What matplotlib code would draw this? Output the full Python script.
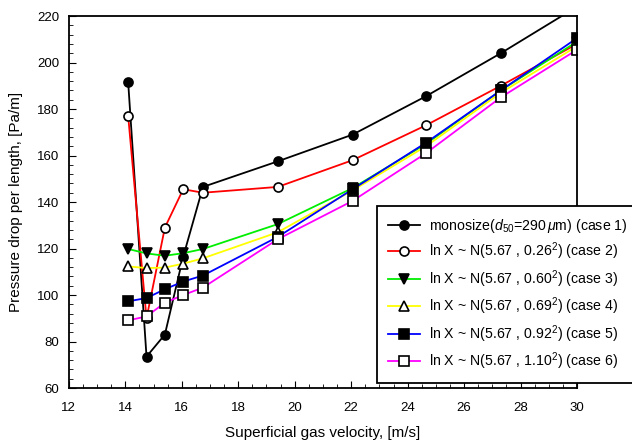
import matplotlib.pyplot as plt
from matplotlib.ticker import MultipleLocator

plt.rcParams['font.family'] = ['Liberation Sans', 'DejaVu Sans']
plt.rcParams['mathtext.fontset'] = 'custom'
plt.rcParams['mathtext.rm'] = 'Liberation Sans'
plt.rcParams['mathtext.it'] = 'Liberation Sans:italic'

velocity = [14.1, 14.75, 15.4, 16.05, 16.75, 19.4, 22.05, 24.65, 27.3, 30.0]
case1 = [191.5, 73.5, 83.0, 116.5, 146.5, 157.5, 169.0, 185.5, 204.0, 224.0]
case2 = [177.0, 90.0, 129.0, 145.5, 144.0, 146.5, 158.0, 173.0, 190.0, 208.0]
case3 = [119.8, 117.9, 116.9, 118.0, 119.8, 130.5, 146.0, 165.0, 188.0, 209.0]
case4 = [112.3, 111.6, 111.8, 113.5, 115.8, 127.0, 145.0, 164.0, 187.0, 207.0]
case5 = [97.3, 98.7, 102.5, 105.8, 108.4, 125.0, 145.5, 165.5, 188.0, 210.5]
case6 = [89.1, 90.8, 96.7, 100.0, 103.2, 124.0, 140.5, 161.0, 185.0, 205.5]

labels = [
    r'monosize($d_{50}$=290$\,\mu$m) (case 1)',
    r'ln X ~ N(5.67 , 0.26$^2$) (case 2)',
    r'ln X ~ N(5.67 , 0.60$^2$) (case 3)',
    r'ln X ~ N(5.67 , 0.69$^2$) (case 4)',
    r'ln X ~ N(5.67 , 0.92$^2$) (case 5)',
    r'ln X ~ N(5.67 , 1.10$^2$) (case 6)',
]

fig = plt.figure(figsize=(6.32, 4.45), dpi=100)
ax = fig.add_axes([0.109, 0.128, 0.804, 0.836])

styles = [
    (case1, 'black', 'o', 'black'),
    (case2, 'red', 'o', 'white'),
    (case3, '#00ee00', 'v', 'black'),
    (case4, '#ffff00', '^', 'white'),
    (case5, 'blue', 's', 'black'),
    (case6, 'magenta', 's', 'white'),
]
for (vals, col, mk, face), lab in zip(styles, labels):
    ax.plot(velocity, vals, color=col, lw=1.3, marker=mk, markersize=6.5,
            markerfacecolor=face, markeredgecolor='black', markeredgewidth=1.2,
            label=lab)

ax.set_xlim(12, 30)
ax.set_ylim(60, 220)
ax.xaxis.set_major_locator(MultipleLocator(2))
ax.xaxis.set_minor_locator(MultipleLocator(0.5))
ax.yaxis.set_major_locator(MultipleLocator(20))
ax.yaxis.set_minor_locator(MultipleLocator(4))
ax.tick_params(which='both', direction='in', top=False, right=False, labelsize=9.5)
ax.tick_params(which='major', length=5)
ax.tick_params(which='minor', length=3)
ax.tick_params(axis='x', pad=10)
ax.tick_params(axis='y', pad=7)
for s in ax.spines.values():
    s.set_linewidth(1.3)

ax.set_xlabel('Superficial gas velocity, [m/s]', fontsize=11, labelpad=9)
ax.set_ylabel('Pressure drop per length, [Pa/m]', fontsize=11, labelpad=10)

leg = fig.legend(loc='upper left', bbox_to_anchor=(377 / 632, 1 - 206 / 445),
                 fontsize=10.2, frameon=True, fancybox=False, framealpha=1,
                 edgecolor='black', handlelength=2.3, labelspacing=0.42,
                 borderpad=0.75, handletextpad=0.6, borderaxespad=0)
leg.get_frame().set_linewidth(1.3)

fig.savefig('out.png', dpi=100)
